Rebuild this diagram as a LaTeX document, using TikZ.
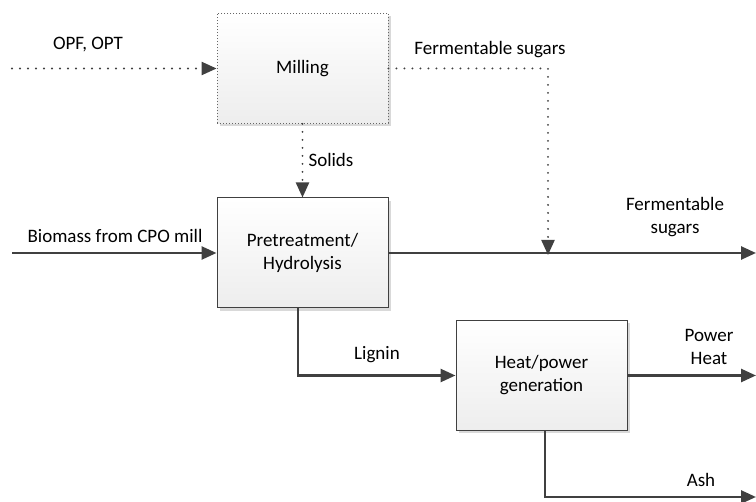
\documentclass[tikz,border=0pt]{standalone}
\usepackage{fontspec}
\setmainfont{Carlito}
\usetikzlibrary{arrows.meta,shadows}
\definecolor{ink}{HTML}{404040}
\tikzset{
  x=1pt, y=-1pt,
  proc/.style={draw=ink, line width=1pt, minimum width=171pt, minimum height=110pt,
    top color=white, bottom color=gray!14, align=center, font=\fontsize{19}{23}\selectfont,
    drop shadow={shadow xshift=3pt, shadow yshift=-3pt, fill=gray!30, opacity=1}},
  flow/.style={draw=ink, line width=2.6pt, -{Triangle[length=15pt,width=13pt]}},
  dotflow/.style={draw=ink, line width=2.2pt, dash pattern=on 0pt off 8pt, line cap=round,
    -{Triangle[length=15pt,width=13pt,line cap=butt]}},
  lbl/.style={font=\fontsize{19}{23}\selectfont, text=black, align=center},
}
\begin{document}
\begin{tikzpicture}
\useasboundingbox (0,0) rectangle (756,502);
% process blocks
\node[proc, draw=ink!80, dotted, line width=0.8pt] (mill) at (302.5,68.5) {Milling};
\node[proc] (pre) at (302.5,253) {Pretreatment/\\Hydrolysis};
\node[proc] (heat) at (541.5,375.5) {Heat/power\\generation};
% free ends
\coordinate (opfin) at (12,68.5);
\coordinate (bioin) at (12,253);
\coordinate (sugout) at (756,253);
\coordinate (heatout) at (756,375.5);
\coordinate (ashout) at (756,497);
\coordinate (mix) at (548,253);
% flows
\draw[dotflow] (opfin) -- (mill.west);
\draw[dotflow] (mill.south) -- (pre.north);
\draw[dotflow] (mill.east) -| ([yshift=-2pt]mix);
\draw[flow] (bioin) -- (pre.west);
\draw[flow] (pre.east) -- (sugout);
\draw[flow] (pre.south -| 298,0) |- (heat.west);
\draw[flow] (heat.east) -- (heatout);
\draw[flow] (heat.south -| 545,0) |- (ashout);
% labels
\node[lbl] (lopf) at (88,45) {OPF, OPT};
\node[lbl] (lfs) at (490,50) {Fermentable sugars};
\node[lbl] (lsol) at (331,160) {Solids};
\node[lbl] (lbio) at (115,236) {Biomass from CPO mill};
\node[lbl] (lfs2) at (675,217) {Fermentable\\sugars};
\node[lbl] (llig) at (377,355) {Lignin};
\node[lbl] (lpow) at (709,347) {Power\\Heat};
\node[lbl] (lash) at (701,480) {Ash};
\end{tikzpicture}
\end{document}
